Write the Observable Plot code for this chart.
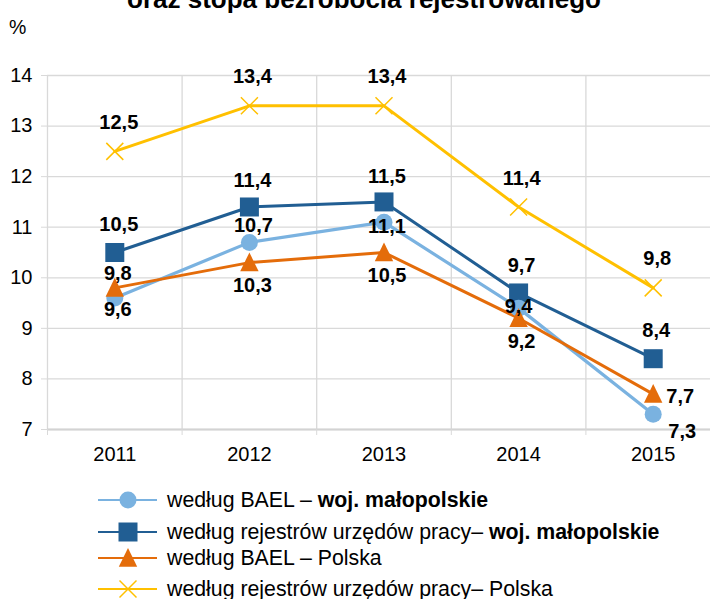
<!DOCTYPE html>
<html><head><meta charset="utf-8">
<script src="https://cdn.jsdelivr.net/npm/d3@7"></script>
<script src="https://cdn.jsdelivr.net/npm/@observablehq/plot@0.6"></script>
<style>
html,body{margin:0;padding:0;background:#fff;overflow:hidden;}
#wrap{position:relative;width:710px;height:599px;overflow:hidden;background:#fff;font-family:"Liberation Sans",Arial,sans-serif;color:#000;}
#title{position:absolute;z-index:2;left:0;width:728px;top:-14px;text-align:center;font-weight:bold;font-size:26px;line-height:26px;white-space:nowrap;}
#unit{position:absolute;z-index:2;left:9px;top:16px;font-size:19.5px;line-height:22px;}
#chart{position:absolute;z-index:1;left:0;top:0;width:720px;height:470px;}
#chart svg{max-width:none !important;width:720px;height:470px;}
#chart g[aria-label="y-axis tick label"], #chart g[aria-label="x-axis tick label"]{font-size:20px;}
.lg{position:absolute;z-index:2;left:0;height:30px;width:710px;}
.lg svg{position:absolute;left:96px;top:0;}
.lg span{position:absolute;left:167px;top:0;line-height:30px;font-size:21.3px;white-space:nowrap;}
</style></head>
<body><div id="wrap">
<div id="chart"></div>
<div id="title">oraz stopa bezrobocia rejestrowanego</div>
<div id="unit">%</div>
<div id="legend"></div>
</div>
<script>
// ---- data ----
const years = [2011, 2012, 2013, 2014, 2015];
const baelMalopolskie = [9.6, 10.7, 11.1, 9.4, 7.3];
const rejestrMalopolskie = [10.5, 11.4, 11.5, 9.7, 8.4];
const baelPolska = [9.8, 10.3, 10.5, 9.2, 7.7];
const rejestrPolska = [12.5, 13.4, 13.4, 11.4, 9.8];
const yTicks = [7, 8, 9, 10, 11, 12, 13, 14];
const legendLabels = [
  ["według BAEL – ", "woj. małopolskie"],
  ["według rejestrów urzędów pracy– ", "woj. małopolskie"],
  ["według BAEL – Polska", ""],
  ["według rejestrów urzędów pracy– Polska", ""]
];

// ---- styling / placement ----
const colors = {lb: "#7AB2E0", db: "#215E93", or: "#E46C0A", ye: "#FFC000"};
// label offsets [dx, dy] per point
const offLb = [[3, 12], [4, -17], [3, 4], [0, -2], [29, 17]];
const offDb = [[4, -28], [3, -26], [3, -25], [3, -27], [3, -28]];
const offOr = [[3, -14], [3, 23], [3, 23], [3, 23], [27, 2]];
const offYe = [[4, -29], [3, -29], [3, -29], [3, -28], [4, -29]];

const symCircle = {draw(ctx, size) { const r = Math.sqrt(size / Math.PI); ctx.moveTo(r, 0); ctx.arc(0, 0, r, 0, 2 * Math.PI); ctx.closePath(); }};
const symSquare = {draw(ctx, size) { const r = Math.sqrt(size / Math.PI); ctx.rect(-r, -r, 2 * r, 2 * r); }};
const symTriangle = {draw(ctx, size) { const r = Math.sqrt(size / Math.PI); ctx.moveTo(0, -r * 1.1); ctx.lineTo(r, r * 0.95); ctx.lineTo(-r, r * 0.95); ctx.closePath(); }};
const symTimes = {draw(ctx, size) { const r = Math.sqrt(size / Math.PI); ctx.moveTo(-r, -r); ctx.lineTo(r, r); ctx.moveTo(r, -r); ctx.lineTo(-r, r); }};

const fmt = v => v.toFixed(1).replace(".", ",");
const rows = (vals) => years.map((y, i) => ({year: y, value: vals[i]}));
const edges = [years[0] - 0.5, ...years.map(y => y + 0.5)];

const series = [
  {data: rows(rejestrMalopolskie), color: colors.db, sym: symSquare, r: 9.5, off: offDb, lw: 3},
  {data: rows(baelMalopolskie), color: colors.lb, sym: symCircle, r: 8.5, off: offLb, lw: 3.2},
  {data: rows(baelPolska), color: colors.or, sym: symTriangle, r: 9.2, off: offOr, lw: 3},
  {data: rows(rejestrPolska), color: colors.ye, sym: symTimes, r: 8.5, off: offYe, lw: 3, stroked: true}
];

const marks = [
  Plot.gridY({ticks: yTicks, stroke: "#d9d9d9", strokeOpacity: 1, strokeWidth: 1.3}),
  Plot.gridX({ticks: edges, stroke: "#d9d9d9", strokeOpacity: 1, strokeWidth: 1.3}),
  Plot.ruleY([7], {stroke: "#d3d3d3", strokeWidth: 2.2}),
  Plot.axisY({ticks: yTicks, tickSize: 6, tickPadding: 9, stroke: "#d9d9d9", fill: "#000", fontSize: 20, tickFormat: d => String(d), label: null}),
  Plot.axisX({ticks: edges, tickSize: 6, tickFormat: () => "", stroke: "#d9d9d9", label: null}),
  Plot.axisX({ticks: years, tickSize: 0, tickPadding: 17, fill: "#000", fontSize: 20, tickFormat: d => String(d), label: null})
];
for (const s of series) marks.push(Plot.line(s.data, {x: "year", y: "value", stroke: s.color, strokeWidth: s.lw}));
for (const s of series) {
  if (s.stroked) marks.push(Plot.dot(s.data, {x: "year", y: "value", symbol: s.sym, r: s.r, stroke: s.color, strokeWidth: 1.5, fill: "none"}));
  else marks.push(Plot.dot(s.data, {x: "year", y: "value", symbol: s.sym, r: s.r, fill: s.color, stroke: "none"}));
}
for (const s of series) {
  s.data.forEach((d, i) => {
    marks.push(Plot.text([d], {x: "year", y: "value", text: d => fmt(d.value), dx: s.off[i][0], dy: s.off[i][1], fontSize: 20, fontWeight: "bold", fill: "#000"}));
  });
}

const chart = Plot.plot({
  width: 720, height: 470,
  marginLeft: 47, marginRight: 0, marginTop: 75, marginBottom: 41,
  x: {domain: [edges[0], edges[edges.length - 1]]},
  y: {domain: [7, 14]},
  style: {fontFamily: '"Liberation Sans", Arial, sans-serif', background: "transparent", color: "#000"},
  marks
});
chart.style.maxWidth = "none";
chart.style.width = "720px";
chart.style.height = "470px";
document.getElementById("chart").appendChild(chart);

// ---- legend ----
const legendSeries = [
  {color: colors.lb, sym: symCircle, r: 8.5, cy: 500},
  {color: colors.db, sym: symSquare, r: 9.5, cy: 532},
  {color: colors.or, sym: symTriangle, r: 9.2, cy: 558},
  {color: colors.ye, sym: symTimes, r: 8.5, cy: 589, stroked: true}
];
const lg = d3.select("#legend");
legendSeries.forEach((s, i) => {
  const row = lg.append("div").attr("class", "lg").style("top", (s.cy - 15) + "px");
  const svg = row.append("svg").attr("width", 64).attr("height", 30);
  svg.append("line").attr("x1", 2).attr("x2", 61).attr("y1", 15).attr("y2", 15).attr("stroke", s.color).attr("stroke-width", 2);
  const p = d3.path(); s.sym.draw(p, s.r * s.r * Math.PI);
  const path = svg.append("path").attr("d", p.toString()).attr("transform", "translate(32,15)");
  if (s.stroked) path.attr("fill", "none").attr("stroke", s.color).attr("stroke-width", 1.5);
  else path.attr("fill", s.color);
  const sp = row.append("span");
  sp.text(legendLabels[i][0]);
  if (legendLabels[i][1]) sp.append("b").text(legendLabels[i][1]);
});
</script>
</body></html>
